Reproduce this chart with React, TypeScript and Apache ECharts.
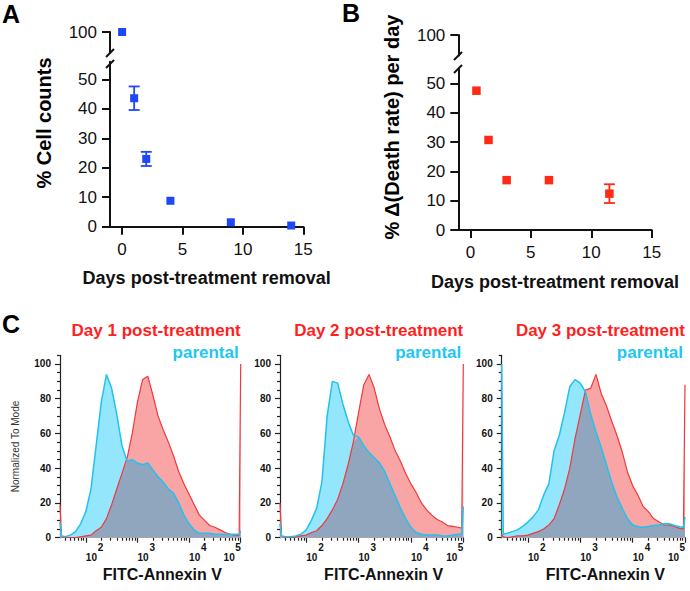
import React, { useEffect, useRef } from 'react';
import * as echarts from 'echarts';

// ---------- Panel A ----------
const daysA = [0, 1, 2, 4, 9, 14];
const cellCountsA = [100, 43.6, 23, 8.8, 1.5, 0.4];
const cellErrA = [0, 4, 2.4, 0, 0, 0];

// ---------- Panel B ----------
const daysB = [0.5, 1.5, 3, 6.5, 11.5];
const deathRateB = [47.5, 30.7, 17, 17, 12.4];
const deathErrB = [0, 0, 0, 0, 3.2];

const xTicksAB = [0, 5, 10, 15];
const yTicksLowerAB = [0, 10, 20, 30, 40, 50];
const yTicksUpperAB = [100];

// ---------- Panel C (x in log10 decades of FITC-Annexin V) ----------
const fitcDecades = [1.5, 1.53, 1.6, 1.7, 1.8, 1.9, 2.0, 2.1, 2.2, 2.3, 2.4, 2.5, 2.6, 2.7, 2.8, 2.9, 3.0, 3.1, 3.2, 3.3, 3.4, 3.5, 3.6, 3.7, 3.8, 3.9, 4.0, 4.1, 4.2, 4.3, 4.4, 4.5, 4.6, 4.7, 4.8, 4.9, 4.97, 5.0];
const day1Parental = [9, 1, 0.5, 1.5, 3.5, 8, 15, 28, 53, 78, 94, 86, 71, 53, 44, 45, 43, 42, 43, 39, 35, 32, 28, 25.5, 20, 13, 8, 4.4, 2.5, 2.5, 2.5, 2, 2, 2, 2, 2, 2, 4];
const day1Treated = [19, 0.5, 0, 0, 0, 0.5, 1, 1.5, 4, 6, 11, 19, 28, 37, 46, 60, 78, 91, 93, 82, 70, 62, 55, 47, 38, 31, 25, 19, 13, 10, 7, 6, 4.5, 3, 2, 1.5, 1.5, 100];
const day2Parental = [8, 1, 0.5, 0.5, 1, 2, 4.5, 10, 17, 32, 70, 90, 89, 77, 67, 59, 58, 53, 49, 46, 43, 38, 31, 24, 17, 11, 6, 3, 2, 1.5, 1.5, 1.5, 1, 1, 1.5, 2, 2, 18];
const day2Treated = [20, 1, 0, 0, 0.5, 1, 1.5, 3, 4, 7, 11, 16, 22, 31, 42, 55, 72, 88, 94, 86, 74, 65, 58, 50, 44, 37, 31, 26, 20, 16, 13, 10.5, 9, 7, 6.5, 6, 5.5, 100];
const day3Parental = [100, 2, 2.5, 3.5, 4.5, 6.5, 9, 12, 16, 24.5, 31, 50, 59, 72, 87, 91, 89, 84, 71, 61, 52, 42, 32, 23.5, 17, 11, 7.3, 6.3, 6, 6.5, 7, 7.3, 8, 8, 7, 6.3, 6, 12];
const day3Treated = [2, 0.5, 0, 0.5, 1, 1, 1.5, 2.5, 3.5, 5, 7.3, 11, 19, 28, 40, 57, 71, 85, 86, 94, 83, 76, 67, 59, 49.5, 38, 30, 24.6, 18, 15, 11, 9.2, 7.3, 7.3, 6.3, 5.4, 5, 88];

const histTitles = ['Day 1 post-treatment', 'Day 2 post-treatment', 'Day 3 post-treatment'];
const histYTicks = [0, 20, 40, 60, 80, 100];
const histXTicks = [2, 3, 4, 5];

const FONT = '"Liberation Sans", Arial, Helvetica, sans-serif';
const BLUE = '#1d47f7';
const RED = '#ff2a16';
const RED_TITLE = '#ff1f1f';
const CYAN_TITLE = '#1cc8f3';
const RED_LINE = '#f0393b';
const RED_FILL = '#f9a5a5';
const CYAN_LINE = '#22c2ef';
const CYAN_FILL = '#93e6fb';
const OVERLAP_FILL = 'rgba(128,166,194,0.88)';
const AXIS = '#111';

const minorLogTicks: number[] = [];
for (let d = 1; d <= 4; d++) {
  for (let k = 2; k <= 9; k++) {
    const v = d + Math.log10(k);
    if (v > 1.5 && v < 5) minorLogTicks.push(v);
  }
}
const histYMinor: number[] = [];
for (let v = 5; v <= 105; v += 5) if (v % 20 !== 0) histYMinor.push(v);

const gridsC = [
  { left: 60, width: 180.7 },
  { left: 280, width: 183.3 },
  { left: 501.7, width: 183.3 },
];

function errorBarSeries(xi: number, yi: number, xs: number[], ys: number[], errs: number[], color: string) {
  return {
    type: 'custom',
    xAxisIndex: xi,
    yAxisIndex: yi,
    silent: true,
    z: 1,
    data: xs.map((x, i) => [x, ys[i], errs[i]]).filter((d) => d[2] > 0),
    encode: { x: 0, y: 1 },
    renderItem: (params: any, api: any) => {
      const x = api.value(0);
      const y = api.value(1);
      const e = api.value(2);
      const top = api.coord([x, y + e]);
      const bot = api.coord([x, y - e]);
      const hw = 5.5;
      const style = { stroke: color, lineWidth: 1.8 };
      return {
        type: 'group',
        children: [
          { type: 'line', shape: { x1: top[0], y1: top[1], x2: bot[0], y2: bot[1] }, style },
          { type: 'line', shape: { x1: top[0] - hw, y1: top[1], x2: top[0] + hw, y2: top[1] }, style },
          { type: 'line', shape: { x1: bot[0] - hw, y1: bot[1], x2: bot[0] + hw, y2: bot[1] }, style },
        ],
      };
    },
  };
}

function histSeries(g: number, treated: number[], parental: number[]) {
  const idx = 4 + g * 2;
  const pts = (arr: number[]) => fitcDecades.map((x, i) => [x, arr[i]]);
  const overlap = fitcDecades.map((x, i) => [x, Math.min(treated[i], parental[i])]);
  const base = { type: 'line', xAxisIndex: idx, yAxisIndex: idx, showSymbol: false, symbol: 'none', silent: true };
  return [
    { ...base, data: pts(parental), lineStyle: { opacity: 0, width: 0 }, areaStyle: { color: CYAN_FILL, opacity: 1 } },
    { ...base, data: pts(treated), lineStyle: { width: 1.2, color: RED_LINE }, areaStyle: { color: RED_FILL, opacity: 1 } },
    { ...base, data: overlap, lineStyle: { opacity: 0, width: 0 }, areaStyle: { color: OVERLAP_FILL, opacity: 1 } },
    { ...base, data: pts(parental), lineStyle: { width: 1.5, color: CYAN_LINE } },
  ];
}

function abAxes(gLower: number, gUpper: number, yMax: number, xName: string, nameGap: number) {
  const tickStyle = { color: AXIS, width: 2 };
  const x = [
    {
      gridIndex: gLower, type: 'value', min: -1, max: 15,
      axisLine: { show: true, onZero: false, lineStyle: tickStyle },
      axisTick: { show: true, customValues: xTicksAB, length: 8, lineStyle: tickStyle },
      axisLabel: { customValues: xTicksAB, fontSize: 17, color: AXIS, fontFamily: FONT, margin: 14 },
      splitLine: { show: false },
      name: xName, nameLocation: 'middle', nameGap,
      nameTextStyle: { fontSize: 18, fontWeight: 'bold', color: AXIS, fontFamily: FONT },
    },
    { gridIndex: gUpper, type: 'value', min: -1, max: 15, show: false },
  ];
  const y = [
    {
      gridIndex: gLower, type: 'value', min: 0, max: yMax,
      axisLine: { show: true, onZero: false, lineStyle: tickStyle },
      axisTick: { show: true, customValues: yTicksLowerAB, length: 8, lineStyle: tickStyle },
      axisLabel: { customValues: yTicksLowerAB, fontSize: 17, color: AXIS, fontFamily: FONT, margin: 13 },
      splitLine: { show: false },
    },
    {
      gridIndex: gUpper, type: 'value', min: 93, max: 100,
      axisLine: { show: true, onZero: false, lineStyle: tickStyle },
      axisTick: { show: true, customValues: yTicksUpperAB, length: 8, lineStyle: tickStyle },
      axisLabel: { customValues: yTicksUpperAB, fontSize: 17, color: AXIS, fontFamily: FONT, margin: 13 },
      splitLine: { show: false },
    },
  ];
  return { x, y };
}

const supStyle = { fontSize: 10, fontWeight: 'bold', color: '#111', fontFamily: FONT, lineHeight: 7 };
const baseStyle = { fontSize: 10, fontWeight: 'bold', color: '#111', fontFamily: FONT, lineHeight: 13 };

function histAxes(g: number) {
  const ls = { color: '#222', width: 1.2 };
  const x = [
    {
      gridIndex: 4 + g, type: 'value', min: 1.5, max: 5, position: 'bottom',
      axisLine: { show: true, onZero: false, lineStyle: ls },
      axisTick: { show: true, customValues: histXTicks, length: 5, lineStyle: ls },
      axisLabel: {
        customValues: histXTicks,
        formatter: (v: number) => {
          const n = Math.round(v);
          return n === 5 ? `{sr|${n}}\n{br|10}` : `{s|${n}}\n{b|10}`;
        },
        align: 'left',
        alignMaxLabel: 'right',
        margin: 6,
        rich: {
          s: { ...supStyle, padding: [0, 0, 0, 12] },
          b: { ...baseStyle },
          sr: { ...supStyle },
          br: { ...baseStyle, padding: [0, 6, 0, 0] },
        },
      },
      splitLine: { show: false },
      name: 'FITC-Annexin V', nameLocation: 'middle', nameGap: 29,
      nameTextStyle: { fontSize: 16, fontWeight: 'bold', color: '#111', fontFamily: FONT, padding: [0, 0, 0, 24] },
    },
    {
      gridIndex: 4 + g, type: 'value', min: 1.5, max: 5, position: 'bottom',
      axisLine: { show: false, onZero: false },
      axisTick: { show: true, customValues: minorLogTicks, length: 3, lineStyle: ls },
      axisLabel: { show: false },
      splitLine: { show: false },
    },
  ];
  const y = [
    {
      gridIndex: 4 + g, type: 'value', min: 0, max: 105, position: 'left',
      axisLine: { show: true, onZero: false, lineStyle: ls },
      axisTick: { show: true, customValues: histYTicks, length: 5, lineStyle: ls },
      axisLabel: { customValues: histYTicks, fontSize: 10, fontWeight: 'bold', color: '#111', fontFamily: FONT, margin: 9 },
      splitLine: { show: false },
      name: g === 0 ? 'Normalized To Mode' : '',
      nameLocation: 'middle', nameGap: 40,
      nameTextStyle: { fontSize: 10, color: '#333', fontFamily: FONT },
    },
    {
      gridIndex: 4 + g, type: 'value', min: 0, max: 105, position: 'left',
      axisLine: { show: false, onZero: false },
      axisTick: { show: true, customValues: histYMinor, length: 3, lineStyle: ls },
      axisLabel: { show: false },
      splitLine: { show: false },
    },
  ];
  return { x, y };
}

function buildOption() {
  const a = abAxes(0, 1, 56, 'Days post-treatment removal', 42);
  const b = abAxes(2, 3, 55, 'Days post-treatment removal', 43);
  const c = [0, 1, 2].map((g) => histAxes(g));

  const aLowerPts = daysA.map((d, i) => [d, cellCountsA[i]]).filter((p) => p[1] <= 56);
  const aUpperPts = daysA.map((d, i) => [d, cellCountsA[i]]).filter((p) => p[1] > 56);
  const bPts = daysB.map((d, i) => [d, deathRateB[i]]);

  const textStyle = (fs: number, color: string, bold = true) => ({
    fontSize: fs, fontWeight: bold ? 'bold' : 'normal', fontFamily: FONT, fill: color,
  });

  const graphic: any[] = [
    { type: 'text', x: 2, y: 14, silent: true, style: { text: 'A', ...textStyle(25, '#000'), align: 'left', verticalAlign: 'middle' } },
    { type: 'text', x: 342, y: 13, silent: true, style: { text: 'B', ...textStyle(25, '#000'), align: 'left', verticalAlign: 'middle' } },
    { type: 'text', x: 2, y: 324, silent: true, style: { text: 'C', ...textStyle(25, '#000'), align: 'left', verticalAlign: 'middle' } },
    { type: 'text', x: 44, y: 123, rotation: Math.PI / 2, silent: true, style: { text: '% Cell counts', ...textStyle(20, '#000'), align: 'center', verticalAlign: 'middle' } },
    { type: 'text', x: 392, y: 127, rotation: Math.PI / 2, silent: true, style: { text: '% Δ(Death rate) per day', ...textStyle(20, '#000'), align: 'center', verticalAlign: 'middle' } },
    { type: 'line', silent: true, shape: { x1: 106, y1: 57, x2: 114, y2: 49 }, style: { stroke: AXIS, lineWidth: 2 } },
    { type: 'line', silent: true, shape: { x1: 106, y1: 68, x2: 114, y2: 60 }, style: { stroke: AXIS, lineWidth: 2 } },
    { type: 'line', silent: true, shape: { x1: 454, y1: 60, x2: 462, y2: 52 }, style: { stroke: AXIS, lineWidth: 2 } },
    { type: 'line', silent: true, shape: { x1: 454, y1: 73, x2: 462, y2: 65 }, style: { stroke: AXIS, lineWidth: 2 } },
  ];
  gridsC.forEach((gc, g) => {
    const right = gc.left + gc.width;
    graphic.push({ type: 'text', x: right, y: 330, silent: true, style: { text: histTitles[g], ...textStyle(17, RED_TITLE), align: 'right', verticalAlign: 'middle' } });
    graphic.push({ type: 'text', x: right - 2, y: 352, silent: true, style: { text: 'parental', ...textStyle(17, CYAN_TITLE), align: 'right', verticalAlign: 'middle' } });
  });

  const scatterBase = { type: 'scatter', symbol: 'rect', silent: true, z: 3 };

  return {
    animation: false,
    backgroundColor: '#fff',
    textStyle: { fontFamily: FONT },
    grid: [
      { left: 110, top: 61.7, width: 193.3, height: 165 },
      { left: 110, top: 32, width: 193.3, height: 20.6 },
      { left: 458.3, top: 68.7, width: 193.4, height: 161.3 },
      { left: 458.3, top: 35, width: 193.4, height: 20.5 },
      ...gridsC.map((gc) => ({ left: gc.left, top: 355.3, width: gc.width, height: 182.4 })),
    ],
    xAxis: [...a.x, ...b.x, ...c.flatMap((h) => h.x)],
    yAxis: [...a.y, ...b.y, ...c.flatMap((h) => h.y)],
    graphic,
    series: [
      errorBarSeries(0, 0, daysA, cellCountsA, cellErrA, BLUE),
      { ...scatterBase, xAxisIndex: 0, yAxisIndex: 0, data: aLowerPts, symbolSize: 8, itemStyle: { color: BLUE, opacity: 1 } },
      { ...scatterBase, xAxisIndex: 1, yAxisIndex: 1, data: aUpperPts, symbolSize: 8, itemStyle: { color: BLUE, opacity: 1 }, clip: false },
      errorBarSeries(2, 2, daysB, deathRateB, deathErrB, RED),
      { ...scatterBase, xAxisIndex: 2, yAxisIndex: 2, data: bPts, symbolSize: 8.5, itemStyle: { color: RED, opacity: 1 } },
      ...histSeries(0, day1Treated, day1Parental),
      ...histSeries(1, day2Treated, day2Parental),
      ...histSeries(2, day3Treated, day3Parental),
    ],
  };
}

export default function App() {
  const ref = useRef<HTMLDivElement>(null);
  useEffect(() => {
    if (!ref.current) return;
    const chart = echarts.init(ref.current, null, { renderer: 'svg' });
    chart.setOption(buildOption() as any);
    return () => chart.dispose();
  }, []);
  return <div ref={ref} style={{ position: 'absolute', left: 0, top: 0, width: 690, height: 591 }} />;
}
